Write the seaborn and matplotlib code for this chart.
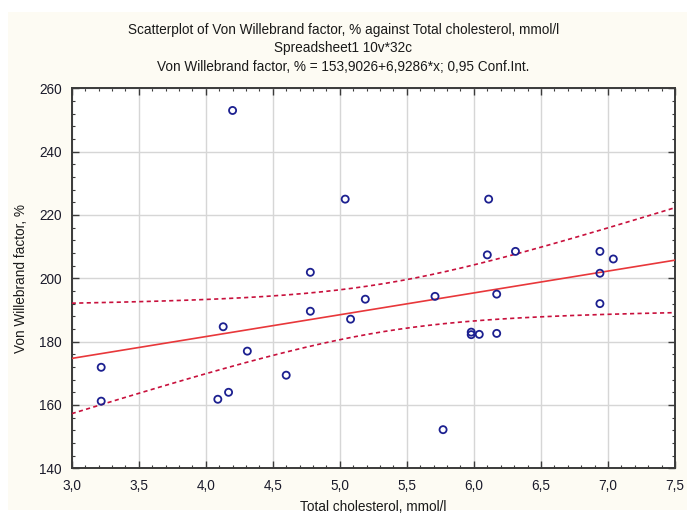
import numpy as np
import pandas as pd
import matplotlib
matplotlib.use("Agg")
import matplotlib.pyplot as plt
import seaborn as sns
from matplotlib.ticker import MultipleLocator, FuncFormatter
from matplotlib.patches import Rectangle

# ---- data (last three are overlapping duplicates) ----
cholesterol = [4.20, 5.04, 6.11, 4.78, 6.10, 6.31, 6.94, 7.04, 6.94, 6.94,
               5.71, 6.17, 5.19, 4.78, 5.08, 4.13, 5.98, 5.98, 6.04, 6.17,
               4.31, 3.22, 4.60, 4.17, 4.09, 3.22, 5.77,
               5.71, 5.71, 3.22]
vwf = [253.0, 225.0, 225.0, 201.9, 207.4, 208.5, 208.5, 206.1, 201.6, 192.0,
       194.3, 195.0, 193.4, 189.6, 187.1, 184.7, 183.0, 182.2, 182.3, 182.6,
       177.0, 171.9, 169.4, 164.0, 161.8, 161.2, 152.2,
       194.3, 194.3, 171.9]

title_lines = ["Scatterplot of Von Willebrand factor, % against Total cholesterol, mmol/l",
               "Spreadsheet1 10v*32c",
               "Von Willebrand factor, % = 153,9026+6,9286*x; 0,95 Conf.Int."]
x_label = "Total cholesterol, mmol/l"
y_label = "Von Willebrand factor, %"
x_range = (3.0, 7.5)
y_range = (140, 260)

df = pd.DataFrame({"x": cholesterol, "y": vwf})

# ---- linear fit with analytic 95% confidence band ----
x = np.asarray(cholesterol)
y = np.asarray(vwf)
n = len(x)
slope, intercept = np.polyfit(x, y, 1)
resid = y - (intercept + slope * x)
s = np.sqrt(np.sum(resid ** 2) / (n - 2))
sxx = np.sum((x - x.mean()) ** 2)
t_crit = 2.0484  # t(0.975, 28)
xg = np.linspace(x_range[0], x_range[1], 200)
yfit = intercept + slope * xg
half = t_crit * s * np.sqrt(1.0 / n + (xg - x.mean()) ** 2 / sxx)
fit_df = pd.DataFrame({"x": xg, "fit": yfit, "lo": yfit - half, "hi": yfit + half})

# ---- style ----
sns.set_theme(style="white")
plt.rcParams["font.family"] = ["Liberation Sans", "DejaVu Sans"]

fig = plt.figure(figsize=(6.87, 5.17), dpi=100)
fig.patch.set_facecolor("white")
bg = Rectangle((8 / 687, 7 / 517), 1 - 8 / 687, 1 - 19 / 517,
               transform=fig.transFigure, facecolor="#fdfbf3",
               edgecolor="none", zorder=-10)
fig.add_artist(bg)

ax = fig.add_axes([71.7 / 687, (517 - 468.3) / 517, (675 - 71.7) / 687, (468.3 - 88.3) / 517])
ax.set_zorder(1)
ax.set_facecolor("white")

red = "#e8373a"
dred = "#c8103c"
sns.lineplot(data=fit_df, x="x", y="fit", ax=ax, color=red, lw=1.2, zorder=3)
sns.lineplot(data=fit_df, x="x", y="lo", ax=ax, color=dred, lw=1.2, zorder=3,
             linestyle=(0, (2.5, 2)))
sns.lineplot(data=fit_df, x="x", y="hi", ax=ax, color=dred, lw=1.2, zorder=3,
             linestyle=(0, (2.5, 2)))
# coincident cases are drawn once (they overlap exactly in the reference)
sns.scatterplot(data=df.drop_duplicates(), x="x", y="y", ax=ax, marker="o", s=26,
                facecolor="none", edgecolor="#1c2090", linewidth=1.3, zorder=4)

ax.set_xlim(*x_range)
ax.set_ylim(*y_range)
ax.xaxis.set_major_locator(MultipleLocator(0.5))
ax.xaxis.set_minor_locator(MultipleLocator(0.1))
ax.yaxis.set_major_locator(MultipleLocator(20))
ax.yaxis.set_minor_locator(MultipleLocator(4))
ax.xaxis.set_major_formatter(FuncFormatter(lambda v, p: f"{v:.1f}".replace(".", ",")))
ax.yaxis.set_major_formatter(FuncFormatter(lambda v, p: f"{v:.0f}"))

ax.grid(True, which="major", color="#d6d6d6", lw=1.0)
ax.set_axisbelow(True)
for sp in ax.spines.values():
    sp.set_visible(True)
    sp.set_color("#3a3a3a")
    sp.set_linewidth(1.4)

ax.tick_params(which="both", direction="in", top=True, right=True,
               left=True, bottom=True, colors="#3a3a3a")
ax.tick_params(which="major", length=5, width=1.0, labelsize=9.8,
               labelcolor="#1a1a2a", pad=7)
ax.tick_params(which="minor", length=2.5, width=0.8)
ax.tick_params(axis="x", which="major", pad=8)

ax.set_xlabel(x_label, fontsize=9.8, color="#1a1a1a", labelpad=5)
ax.set_ylabel(y_label, fontsize=9.8, color="#1a1a1a", labelpad=8)

for txt, ypix in zip(title_lines, [30, 48, 67]):
    fig.text(0.5, 1 - ypix / 517, txt, ha="center", va="center",
             fontsize=9.8, color="#1a1a1a")

fig.savefig("out.png", dpi=100, facecolor=fig.get_facecolor())
